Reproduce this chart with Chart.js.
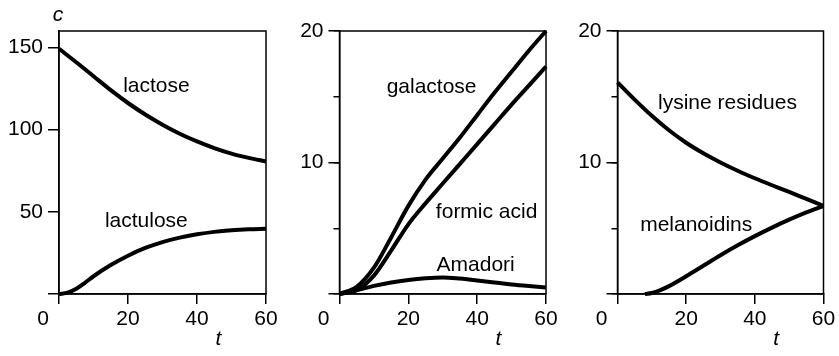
<!DOCTYPE html>
<html>
<head>
<meta charset="utf-8">
<script src="https://cdn.jsdelivr.net/npm/chart.js@4/dist/chart.umd.min.js"></script>
<style>
html,body{margin:0;padding:0;background:#fff;}
#wrap{position:relative;width:839px;height:356px;overflow:hidden;background:#fff;}
canvas{position:absolute;left:0;top:0;}
</style>
</head>
<body>
<div id="wrap">
<canvas id="c1" width="839" height="356"></canvas>
<canvas id="c2" width="839" height="356"></canvas>
<canvas id="c3" width="839" height="356"></canvas>
</div>
<script>
// ---- data ----
const tStep = [0,5,10,15,20,25,30,35,40,45,50,55,60];
const tLactulose = [0,2.5,5,7.5,10,15,20,25,30,35,40,45,50,55,60];
const tMelanoidins = [8,10,12.5,15,20,25,30,35,40,45,50,55,60];

const lactose   = [149.2,141,132.5,124,116.2,109.2,103,97.5,92.8,88.8,85.4,82.8,80.6];
const lactulose = [0,0.8,3.2,6.8,10.8,17.6,23.3,28,31.6,34.3,36.3,37.8,38.8,39.4,39.7];

const galactose  = [0,0.55,2.0,4.3,6.7,8.7,10.3,11.9,13.6,15.3,16.9,18.5,20.0];
const formicAcid = [0,0.3,1.4,3.3,5.3,6.9,8.4,9.9,11.4,12.9,14.4,15.85,17.3];
const amadori    = [0,0.28,0.62,0.88,1.07,1.2,1.26,1.17,1.03,0.88,0.72,0.6,0.5];

const lysineResidues = [16.1,14.78,13.55,12.45,11.5,10.7,10.0,9.37,8.8,8.27,7.76,7.23,6.7];
const melanoidins    = [0,0.08,0.3,0.6,1.35,2.15,2.95,3.7,4.4,5.05,5.65,6.2,6.7];

const xTicks = [0,20,40,60];
const yTicksLeft = [0,50,100,150];
const yTicksSmall = [0,10,20];
const yMinorSmall = [0,5,10,15,20];

// ---- rendering ----
const FONT = "'Liberation Sans', Arial, Helvetica, sans-serif";
Chart.defaults.font.family = FONT;
Chart.defaults.color = '#000';

function pts(ts, vs){ return ts.map((t,i)=>({x:t, y:vs[i]})); }
function curve(ts, vs){
  return {data: pts(ts, vs), borderColor:'#000', borderWidth:4, pointRadius:0,
          cubicInterpolationMode:'monotone', fill:false, clip:false, borderCapStyle:'butt', borderJoinStyle:'round'};
}

function deco(cfg){
  return {
    id:'deco',
    beforeDatasetsDraw(chart){
      const {ctx, chartArea:a} = chart;
      ctx.save();
      ctx.strokeStyle = '#000'; ctx.lineWidth = 1.5;
      ctx.strokeRect(a.left, a.top, a.right - a.left, a.bottom - a.top);
      ctx.restore();
    },
    afterDatasetsDraw(chart){
      const {ctx, chartArea:a, scales} = chart;
      const x = scales.x, y = scales.y;
      ctx.save();
      ctx.fillStyle = '#000';
      ctx.font = '21px ' + FONT;
      ctx.textAlign = 'left'; ctx.textBaseline = 'alphabetic';
      cfg.labels.forEach(l => ctx.fillText(l.text, x.getPixelForValue(l.t), y.getPixelForValue(l.v)));
      ctx.textAlign = 'center'; ctx.textBaseline = 'middle';
      ctx.fillText('0', a.left - 16, a.bottom + 10 + 3 + 12.6);
      ctx.font = 'italic 21px ' + FONT;
      ctx.textBaseline = 'alphabetic';
      ctx.fillText('t', x.getPixelForValue(46.2), 345);
      if (cfg.yTitle) ctx.fillText(cfg.yTitle, a.left - 1, 21);
      ctx.restore();
    }
  };
}

function makePanel(id, cfg){
  const scales = {
    x: {type:'linear', position:'bottom', min:0, max:60,
        afterBuildTicks: s => { s.ticks = xTicks.map(v => ({value:v})); },
        afterFit: s => { s.height = 62; },
        ticks:{autoSkip:false, maxRotation:0, minRotation:0, padding:3, font:{size:21}, color:'#000',
               callback: v => v === 0 ? '' : String(v)},
        grid:{drawOnChartArea:false, drawTicks:true, tickLength:10, color:'#000', lineWidth:1.5},
        border:{display:true, color:'#000', width:1.5}},
    y: {type:'linear', position:'left', weight:1, min:0, max:cfg.yMax,
        afterBuildTicks: s => { s.ticks = cfg.yTicks.map(v => ({value:v})); },
        afterFit: s => { s.width = cfg.left; },
        ticks:{autoSkip:false, padding:5, font:{size:21}, color:'#000',
               callback: v => v === 0 ? '' : String(v)},
        grid:{drawOnChartArea:false, drawTicks:true, tickLength:11, color:'#000', lineWidth:1.5},
        border:{display:true, color:'#000', width:1.5}}
  };
  if (cfg.yMinor) {
    scales.yMinor = {type:'linear', position:'left', weight:0, min:0, max:cfg.yMax,
        afterBuildTicks: s => { s.ticks = cfg.yMinor.map(v => ({value:v})); },
        afterFit: s => { s.width = 0; },
        ticks:{display:false},
        grid:{drawOnChartArea:false, drawTicks:true, tickLength:6, color:'#000', lineWidth:1.5},
        border:{display:false}};
  }
  new Chart(document.getElementById(id), {
    type:'line',
    data:{datasets: cfg.datasets},
    options:{
      responsive:false, animation:false, devicePixelRatio:1, events:[],
      layout:{padding:{left:0, right:839 - cfg.right, top:31, bottom:0}},
      plugins:{legend:{display:false}, tooltip:{enabled:false}, title:{display:false}},
      scales
    },
    plugins:[deco(cfg)]
  });
}

makePanel('c1', {
  left:59, right:266, yMax:160, yTicks:yTicksLeft, yTitle:'c',
  datasets:[curve(tStep, lactose), curve(tLactulose, lactulose)],
  labels:[{text:'lactose', t:18.6, v:123}, {text:'lactulose', t:13.3, v:41}]
});
makePanel('c2', {
  left:339.5, right:546, yMax:20, yTicks:yTicksSmall, yMinor:yMinorSmall,
  datasets:[curve(tStep, galactose), curve(tStep, formicAcid), curve(tStep, amadori)],
  labels:[{text:'galactose', t:13.7, v:15.3}, {text:'formic acid', t:28, v:5.76}, {text:'Amadori', t:28.2, v:1.77}]
});
makePanel('c3', {
  left:617.5, right:823.5, yMax:20, yTicks:yTicksSmall, yMinor:yMinorSmall,
  datasets:[curve(tStep, lysineResidues), curve(tMelanoidins, melanoidins)],
  labels:[{text:'lysine residues', t:11.8, v:14.05}, {text:'melanoidins', t:6.6, v:4.82}]
});
</script>
</body>
</html>
